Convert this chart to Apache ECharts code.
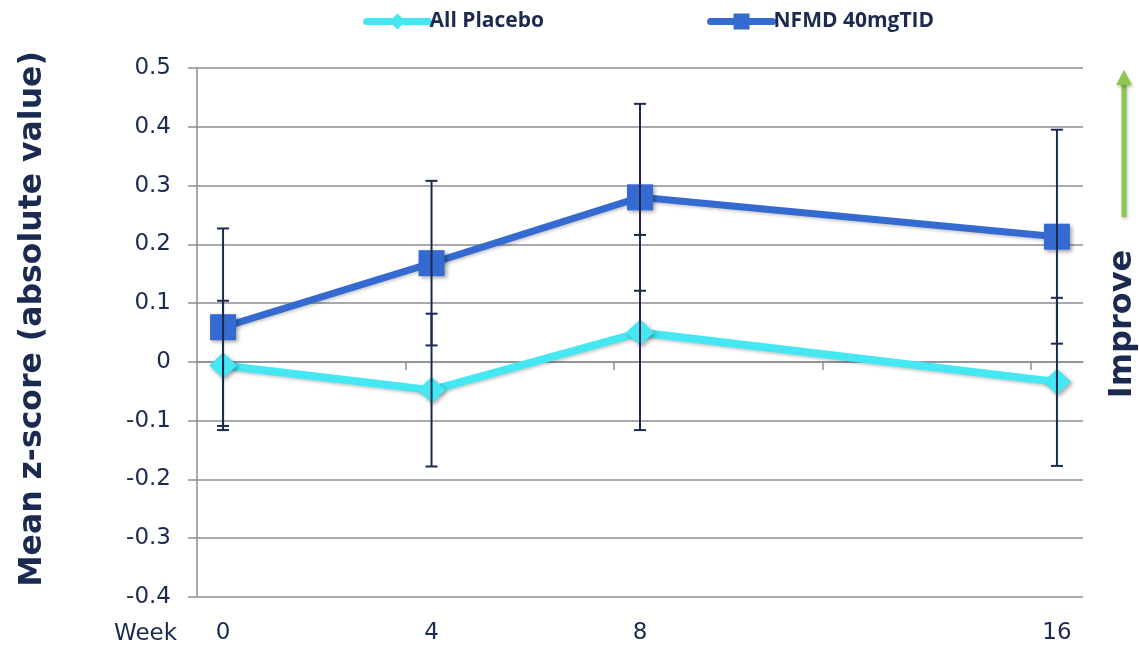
<!DOCTYPE html>
<html>
<head>
<meta charset="utf-8">
<script src="https://cdn.jsdelivr.net/npm/echarts@6/dist/echarts.min.js"></script>
<style>
  html, body { margin: 0; padding: 0; background: #ffffff; }
  #chart { width: 1139px; height: 648px; }
</style>
</head>
<body>
<div id="chart"></div>
<script>
// ---- data ----
const weeks = [0, 4, 8, 16];
const weekTickMarks = [3.5, 7.5, 11.5, 15.5];
const placeboName = 'All Placebo';
const placeboMean = [-0.006, -0.048, 0.050, -0.034];
const placeboErr = [0.110, 0.130, 0.166, 0.143];
const nfmdName = 'NFMD 40mgTID';
const nfmdMean = [0.059, 0.168, 0.280, 0.213];
const nfmdErr = [0.168, 0.140, 0.159, 0.182];
const yMin = -0.4, yMax = 0.5, yStep = 0.1;
const xMin = -0.5, xMax = 16.5;
const yTitle = 'Mean z-score (absolute value)';
const xTitle = 'Week';
const sideNote = 'Improve';

// ---- styles ----
const navy = '#1b2a50';
const gridGray = '#8b8e95';
const cyan = '#45e8f2';
const blue = '#356bd0';

const chart = echarts.init(document.getElementById('chart'), null, { renderer: 'canvas' });

function pts(means) { return weeks.map((w, i) => [w, means[i]]); }
function errData(means, errs) { return weeks.map((w, i) => [w, means[i] - errs[i], means[i] + errs[i]]); }

function errRender(params, api) {
  const x = api.value(0);
  const lo = api.coord([x, api.value(1)]);
  const hi = api.coord([x, api.value(2)]);
  const cap = 6;
  const st = { stroke: navy, lineWidth: 2 };
  return {
    type: 'group',
    children: [
      { type: 'line', shape: { x1: lo[0], y1: lo[1], x2: hi[0], y2: hi[1] }, style: st },
      { type: 'line', shape: { x1: lo[0] - cap, y1: lo[1], x2: lo[0] + cap, y2: lo[1] }, style: st },
      { type: 'line', shape: { x1: hi[0] - cap, y1: hi[1], x2: hi[0] + cap, y2: hi[1] }, style: st }
    ]
  };
}

const shadow = { shadowBlur: 4, shadowOffsetX: 2, shadowOffsetY: 2, shadowColor: 'rgba(0,0,0,0.35)' };
const lineShadow = { shadowBlur: 3, shadowOffsetX: 1, shadowOffsetY: 2, shadowColor: 'rgba(0,0,0,0.2)' };

const option = {
  backgroundColor: '#ffffff',
  animation: false,
  grid: { left: 197, right: 56, top: 68, bottom: 51, containLabel: false },
  legend: {
    left: 358, top: 6,
    itemWidth: 62, itemHeight: 20, itemGap: 163,
    lineStyle: { width: 7, cap: 'round' },
    textStyle: { fontFamily: 'Open Sans', fontWeight: 'bold', fontSize: 21, color: navy, padding: [0, 0, 0, -4] },
    data: [placeboName, nfmdName]
  },
  xAxis: [
    {
      type: 'value', min: xMin, max: xMax, position: 'bottom',
      axisLine: { show: false, onZero: false },
      axisTick: { show: false },
      splitLine: { show: false },
      axisLabel: { customValues: weeks, fontFamily: 'DejaVu Sans', fontSize: 23, color: navy, margin: 25 }
    },
    {
      type: 'value', min: xMin, max: xMax, position: 'bottom',
      axisLine: { show: true, onZero: true, lineStyle: { color: gridGray, width: 1.5 } },
      axisTick: { show: true, customValues: weekTickMarks, length: 8, lineStyle: { color: gridGray, width: 1.5 } },
      splitLine: { show: false },
      axisLabel: { show: false }
    }
  ],
  yAxis: {
    type: 'value', min: yMin, max: yMax, interval: yStep,
    axisLine: { show: true, onZero: false, lineStyle: { color: gridGray, width: 1.5 } },
    axisTick: { show: true, length: 9, lineStyle: { color: gridGray, width: 1.5 } },
    splitLine: { show: true, lineStyle: { color: gridGray, width: 1.5 } },
    axisLabel: {
      fontFamily: 'DejaVu Sans', fontSize: 23, color: navy, margin: 26,
      formatter: v => (Math.abs(v) < 1e-9 ? '0' : (+v.toFixed(1)).toString())
    }
  },
  series: [
    {
      name: placeboName, type: 'line', data: pts(placeboMean), z: 2,
      symbol: 'diamond', symbolSize: [28, 26],
      lineStyle: Object.assign({ color: cyan, width: 8 }, lineShadow),
      itemStyle: Object.assign({ color: cyan }, shadow)
    },
    {
      name: nfmdName, type: 'line', data: pts(nfmdMean), z: 2,
      symbol: 'rect', symbolSize: 26,
      lineStyle: Object.assign({ color: blue, width: 7 }, lineShadow),
      itemStyle: Object.assign({ color: blue }, shadow)
    },
    {
      type: 'custom', data: errData(placeboMean, placeboErr), renderItem: errRender, z: 4,
      encode: { x: 0, y: [1, 2] }, silent: true
    },
    {
      type: 'custom', data: errData(nfmdMean, nfmdErr), renderItem: errRender, z: 4,
      encode: { x: 0, y: [1, 2] }, silent: true
    }
  ],
  graphic: [
    {
      type: 'text', x: 33, y: 319, rotation: Math.PI / 2,
      style: { text: yTitle, x: 0, y: 0, align: 'center', verticalAlign: 'middle',
        fontFamily: 'DejaVu Sans', fontWeight: 'bold', fontSize: 31.5, fill: navy }
    },
    {
      type: 'text', x: 177, y: 634,
      style: { text: xTitle, x: 0, y: 0, align: 'right', verticalAlign: 'middle',
        fontFamily: 'DejaVu Sans', fontSize: 23, fill: navy }
    },
    {
      type: 'text', x: 1123, y: 324, rotation: Math.PI / 2,
      style: { text: sideNote, x: 0, y: 0, align: 'center', verticalAlign: 'middle',
        fontFamily: 'DejaVu Sans', fontWeight: 'bold', fontSize: 32, fill: navy }
    },
    {
      type: 'group', x: 1124, y: 70,
      children: [
        { type: 'line', shape: { x1: 0, y1: 12, x2: 0, y2: 147 },
          style: { stroke: '#8cc84e', lineWidth: 5, shadowBlur: 3, shadowOffsetX: 1, shadowOffsetY: 2, shadowColor: 'rgba(0,0,0,0.25)' } },
        { type: 'polygon', shape: { points: [[0, 0], [8, 15], [-8, 15]] },
          style: { fill: '#8cc84e', shadowBlur: 3, shadowOffsetX: 1, shadowOffsetY: 2, shadowColor: 'rgba(0,0,0,0.25)' } }
      ]
    }
  ]
};

chart.setOption(option);
</script>
</body>
</html>
